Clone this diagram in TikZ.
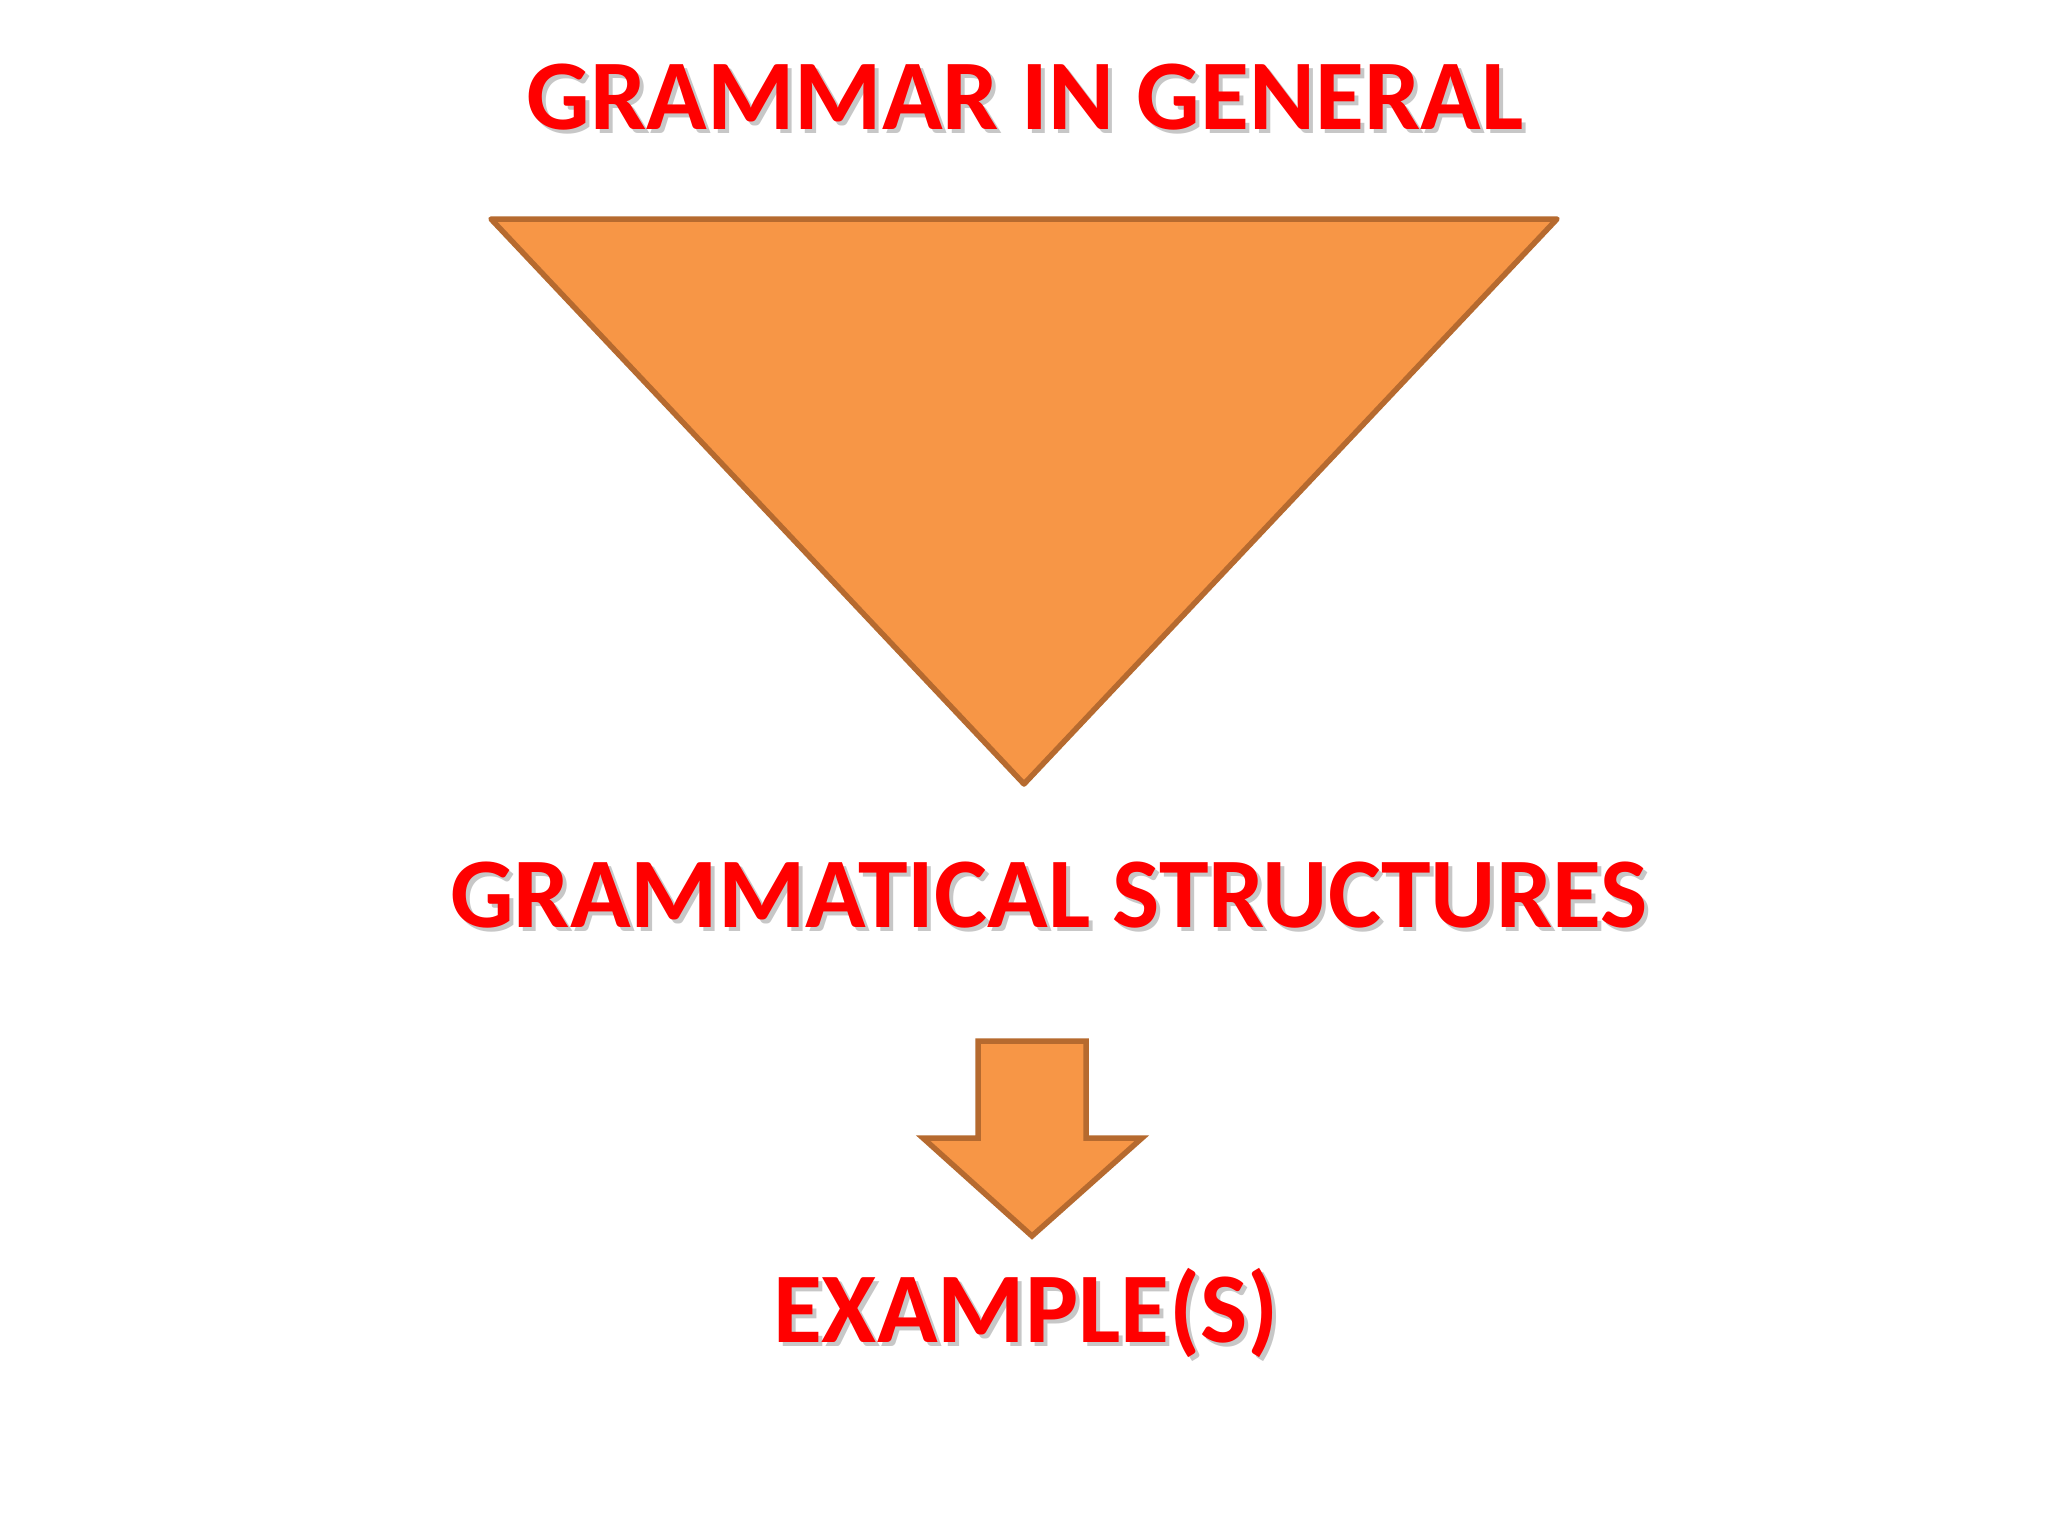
\documentclass[tikz,border=0pt]{standalone}
\usepackage{fontspec}
\setmainfont{Carlito}
\definecolor{shapefill}{HTML}{F79646}
\definecolor{shapeline}{HTML}{B66A2F}
\definecolor{txtred}{HTML}{FF0000}
\begin{document}
\begin{tikzpicture}[x=1pt,y=-1pt,
  heading/.style={font=\fontsize{100}{100}\selectfont\bfseries, text=txtred, anchor=base, inner sep=0pt},
  headshadow/.style={font=\fontsize{100}{100}\selectfont\bfseries, text=black, text opacity=0.22, anchor=base, inner sep=0pt},
  orangeshape/.style={fill=shapefill, draw=shapeline, line width=5.5pt, line join=round}]
\useasboundingbox[fill=white] (0,0) rectangle (2048,1536);
% shadows
\node[headshadow] at (1029,134) {GRAMMAR IN GENERAL};
\node[headshadow] at (1053,931) {GRAMMATICAL STRUCTURES};
\node[headshadow] at (1030,1346) {EXAMPLE(S)};
% texts
\node[heading] (title) at (1025,130) {GRAMMAR IN GENERAL};
\node[heading] (struct) at (1049,927) {GRAMMATICAL STRUCTURES};
\node[heading] (ex) at (1026,1342) {EXAMPLE(S)};
% funnel triangle
\draw[orangeshape] (491,219) -- (1557,219) -- (1024,784) -- cycle;
% down arrow
\draw[orangeshape, line join=miter] (978,1041) -- (1086,1041) -- (1086,1138) -- (1142,1138)
  -- (1032,1236) -- (923,1138) -- (978,1138) -- cycle;
\end{tikzpicture}
\end{document}
